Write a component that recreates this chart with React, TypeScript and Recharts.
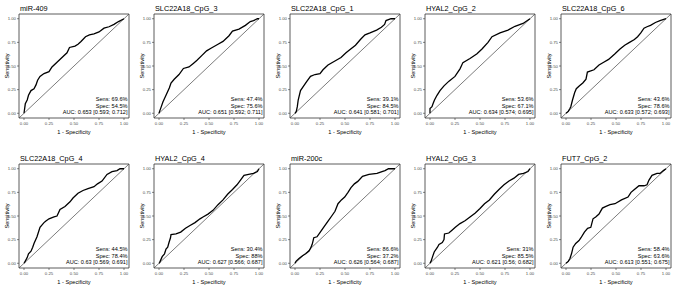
import React from 'react';
import { LineChart, Line, XAxis, YAxis, ReferenceArea } from 'recharts';

const TITLES = ['miR-409', 'SLC22A18_CpG_3', 'SLC22A18_CpG_1', 'HYAL2_CpG_2', 'SLC22A18_CpG_6', 'SLC22A18_CpG_4', 'HYAL2_CpG_4', 'miR-200c', 'HYAL2_CpG_3', 'FUT7_CpG_2'];
const SENS = ['69.6%', '47.4%', '39.1%', '53.6%', '43.6%', '44.5%', '30.4%', '86.6%', '31%', '58.4%'];
const SPEC = ['54.5%', '75.6%', '84.5%', '67.1%', '78.6%', '78.4%', '88%', '37.2%', '85.5%', '63.6%'];
const AUC = ['0.653 [0.593; 0.712]', '0.651 [0.592; 0.711]', '0.641 [0.581; 0.701]', '0.634 [0.574; 0.695]', '0.633 [0.572; 0.693]', '0.63 [0.569; 0.691]', '0.627 [0.566; 0.687]', '0.626 [0.564; 0.687]', '0.621 [0.56; 0.682]', '0.613 [0.551; 0.675]'];
const TICKS = [0, 0.25, 0.5, 0.75, 1];
const DIAG = [[-0.05, -0.05], [1.05, 1.05]];

const MIR409 = [[0, 0], [0.013, 0.1], [0.032, 0.14], [0.045, 0.19], [0.07, 0.24], [0.1, 0.26], [0.12, 0.3], [0.136, 0.35], [0.16, 0.39], [0.2, 0.42], [0.25, 0.44], [0.28, 0.49], [0.33, 0.54], [0.38, 0.59], [0.43, 0.64], [0.455, 0.696], [0.51, 0.71], [0.54, 0.73], [0.57, 0.76], [0.615, 0.81], [0.654, 0.83], [0.7, 0.84], [0.75, 0.86], [0.8, 0.9], [0.85, 0.915], [0.9, 0.94], [0.945, 0.97], [1, 1]];
const SLC_3 = [[0, 0], [0.006, 0.02], [0.023, 0.07], [0.039, 0.12], [0.07, 0.19], [0.104, 0.27], [0.12, 0.32], [0.152, 0.36], [0.2, 0.41], [0.244, 0.474], [0.3, 0.49], [0.346, 0.53], [0.38, 0.56], [0.427, 0.61], [0.476, 0.66], [0.524, 0.69], [0.59, 0.73], [0.64, 0.76], [0.7, 0.82], [0.735, 0.87], [0.8, 0.89], [0.864, 0.93], [0.913, 0.97], [0.945, 0.98], [0.984, 1], [1, 1]];
const SLC_1 = [[0, 0], [0.013, 0.02], [0.023, 0.07], [0.032, 0.14], [0.055, 0.24], [0.087, 0.29], [0.12, 0.34], [0.155, 0.391], [0.2, 0.41], [0.25, 0.42], [0.28, 0.46], [0.33, 0.51], [0.395, 0.55], [0.46, 0.59], [0.51, 0.64], [0.557, 0.68], [0.605, 0.72], [0.654, 0.78], [0.7, 0.83], [0.75, 0.85], [0.816, 0.88], [0.864, 0.91], [0.896, 0.94], [0.91, 0.98], [0.96, 1], [1, 1]];
const HYAL_2 = [[0, 0], [0, 0.05], [0.02, 0.07], [0.03, 0.1], [0.045, 0.14], [0.07, 0.19], [0.1, 0.24], [0.14, 0.29], [0.19, 0.34], [0.25, 0.39], [0.3, 0.47], [0.329, 0.536], [0.4, 0.58], [0.47, 0.63], [0.52, 0.68], [0.58, 0.75], [0.62, 0.81], [0.7, 0.85], [0.78, 0.88], [0.85, 0.92], [0.93, 0.95], [1, 1]];
const SLC_6 = [[0, 0], [0.023, 0.02], [0.039, 0.05], [0.048, 0.07], [0.065, 0.14], [0.087, 0.22], [0.103, 0.26], [0.135, 0.29], [0.168, 0.32], [0.2, 0.36], [0.214, 0.436], [0.28, 0.46], [0.33, 0.51], [0.377, 0.54], [0.426, 0.57], [0.49, 0.63], [0.54, 0.68], [0.587, 0.72], [0.635, 0.75], [0.684, 0.78], [0.716, 0.81], [0.748, 0.85], [0.78, 0.9], [0.81, 0.915], [0.845, 0.93], [0.894, 0.96], [0.94, 0.98], [1, 1]];
const SLC_4 = [[0, 0], [0.006, 0.01], [0.032, 0.06], [0.045, 0.1], [0.07, 0.128], [0.087, 0.17], [0.1, 0.21], [0.13, 0.28], [0.16, 0.38], [0.2, 0.43], [0.216, 0.445], [0.25, 0.47], [0.3, 0.49], [0.33, 0.5], [0.36, 0.57], [0.41, 0.6], [0.46, 0.65], [0.49, 0.69], [0.54, 0.74], [0.59, 0.77], [0.64, 0.79], [0.7, 0.81], [0.735, 0.84], [0.78, 0.87], [0.83, 0.94], [0.88, 0.97], [0.93, 0.98], [0.96, 1], [1, 1]];
const HYAL_4 = [[0, 0], [0.006, 0.007], [0.032, 0.07], [0.055, 0.1], [0.07, 0.15], [0.087, 0.17], [0.1, 0.22], [0.115, 0.27], [0.12, 0.304], [0.17, 0.31], [0.217, 0.33], [0.265, 0.37], [0.31, 0.4], [0.36, 0.43], [0.41, 0.47], [0.44, 0.49], [0.49, 0.52], [0.54, 0.56], [0.59, 0.62], [0.64, 0.67], [0.686, 0.73], [0.735, 0.78], [0.78, 0.83], [0.815, 0.88], [0.85, 0.93], [0.896, 0.94], [0.945, 0.95], [0.984, 0.97], [1, 1]];
const MIR200C = [[0, 0], [0.01, 0.02], [0.04, 0.05], [0.075, 0.08], [0.107, 0.1], [0.14, 0.13], [0.156, 0.16], [0.172, 0.2], [0.188, 0.27], [0.22, 0.28], [0.253, 0.33], [0.286, 0.38], [0.334, 0.45], [0.367, 0.5], [0.4, 0.55], [0.43, 0.63], [0.464, 0.67], [0.497, 0.7], [0.53, 0.75], [0.56, 0.8], [0.594, 0.84], [0.628, 0.866], [0.675, 0.92], [0.74, 0.94], [0.82, 0.95], [0.87, 0.97], [0.9, 0.98], [0.935, 1], [1, 1]];
const HYAL_3 = [[0, 0], [0.01, 0.02], [0.026, 0.07], [0.042, 0.12], [0.075, 0.17], [0.09, 0.2], [0.123, 0.22], [0.14, 0.25], [0.145, 0.31], [0.188, 0.32], [0.22, 0.35], [0.253, 0.38], [0.3, 0.42], [0.35, 0.45], [0.4, 0.49], [0.45, 0.53], [0.5, 0.58], [0.545, 0.63], [0.594, 0.67], [0.643, 0.73], [0.69, 0.78], [0.74, 0.83], [0.79, 0.87], [0.84, 0.9], [0.886, 0.94], [0.935, 0.95], [0.98, 0.97], [1, 1]];
const FUT7_2 = [[0, 0], [0.023, 0.02], [0.039, 0.05], [0.055, 0.1], [0.071, 0.17], [0.097, 0.21], [0.13, 0.24], [0.15, 0.27], [0.184, 0.33], [0.216, 0.37], [0.248, 0.38], [0.27, 0.47], [0.297, 0.49], [0.33, 0.52], [0.364, 0.584], [0.394, 0.6], [0.44, 0.62], [0.49, 0.63], [0.555, 0.67], [0.62, 0.7], [0.65, 0.75], [0.684, 0.78], [0.73, 0.82], [0.78, 0.82], [0.81, 0.83], [0.83, 0.88], [0.86, 0.93], [0.91, 0.95], [0.94, 0.95], [0.974, 0.98], [1, 1]];

const CURVES = [MIR409, SLC_3, SLC_1, HYAL_2, SLC_6, SLC_4, HYAL_4, MIR200C, HYAL_3, FUT7_2];

const W = 134;
const H = 140;
const YW = 19;
const XH = 22;
const PT = 14;
const PL = YW;
const PR = W - 5;
const PB = H - XH;
const COLS = [0, 135, 271, 406, 542];
const ROWS = [0, 150];
const FONT = '"Liberation Sans", Arial, Helvetica, sans-serif';
const DOM: [number, number] = [-0.05, 1.05];

function Panel({ i }: { i: number }) {
  const pts = CURVES[i].map(([x, y]) => ({ x, y }));
  const diag = DIAG.map(([x, y]) => ({ x, y }));
  const tickStyle = { fontSize: 4.3, fill: '#4d4d4d', fontFamily: FONT };
  return (
    <div style={{ position: 'absolute', left: COLS[i % 5], top: ROWS[Math.floor(i / 5)], width: W, height: H }}>
      <LineChart width={W} height={H} margin={{ top: PT, right: W - PR, left: 0, bottom: 0 }}>
        <XAxis type="number" dataKey="x" domain={DOM} ticks={TICKS} allowDataOverflow interval={0}
          tickFormatter={(v: number) => v.toFixed(2)} tick={tickStyle} tickSize={2} tickMargin={2}
          axisLine={false} tickLine={{ stroke: '#333', strokeWidth: 0.6 }} height={XH} />
        <YAxis type="number" dataKey="y" domain={DOM} ticks={TICKS} allowDataOverflow interval={0}
          tickFormatter={(v: number) => v.toFixed(2)} tick={tickStyle} tickSize={2} tickMargin={1}
          axisLine={false} tickLine={{ stroke: '#333', strokeWidth: 0.6 }} width={YW} />
        <ReferenceArea x1={-0.05} x2={1.05} y1={-0.05} y2={1.05} fill="none" stroke="#333" strokeWidth={0.8} ifOverflow="visible" />
        <Line data={diag} dataKey="y" type="linear" stroke="#444" strokeWidth={0.7} dot={false} activeDot={false} isAnimationActive={false} />
        <Line data={pts} dataKey="y" type="linear" stroke="#000" strokeWidth={1.3} dot={false} activeDot={false} isAnimationActive={false} />
      </LineChart>
      <svg width={W} height={H} style={{ position: 'absolute', left: 0, top: 0, pointerEvents: 'none', overflow: 'visible' }} fontFamily={FONT}>
        <text x={PL + 1} y={PT - 3} fontSize={7.3} fill="#000">{TITLES[i]}</text>
        <text transform={`translate(6.5, ${(PT + PB) / 2}) rotate(-90)`} textAnchor="middle" dominantBaseline="central" fontSize={5.6} fill="#000">Sensitivity</text>
        <text x={(PL + PR) / 2} y={PB + 16} textAnchor="middle" fontSize={5.6} fill="#000">1 - Specificity</text>
        <text x={PR - 1.5} y={PB - 17} textAnchor="end" fontSize={5.6} fill="#000">{`Sens: ${SENS[i]}`}</text>
        <text x={PR - 1.5} y={PB - 10.5} textAnchor="end" fontSize={5.6} fill="#000">{`Spec: ${SPEC[i]}`}</text>
        <text x={PR - 1.5} y={PB - 4} textAnchor="end" fontSize={5.6} fill="#000">{`AUC: ${AUC[i]}`}</text>
      </svg>
    </div>
  );
}

export default function App() {
  return (
    <div style={{ position: 'absolute', left: 0, top: 0, width: 676, height: 285, overflow: 'hidden', background: '#fff' }}>
      {TITLES.map((_, i) => <Panel key={i} i={i} />)}
    </div>
  );
}
